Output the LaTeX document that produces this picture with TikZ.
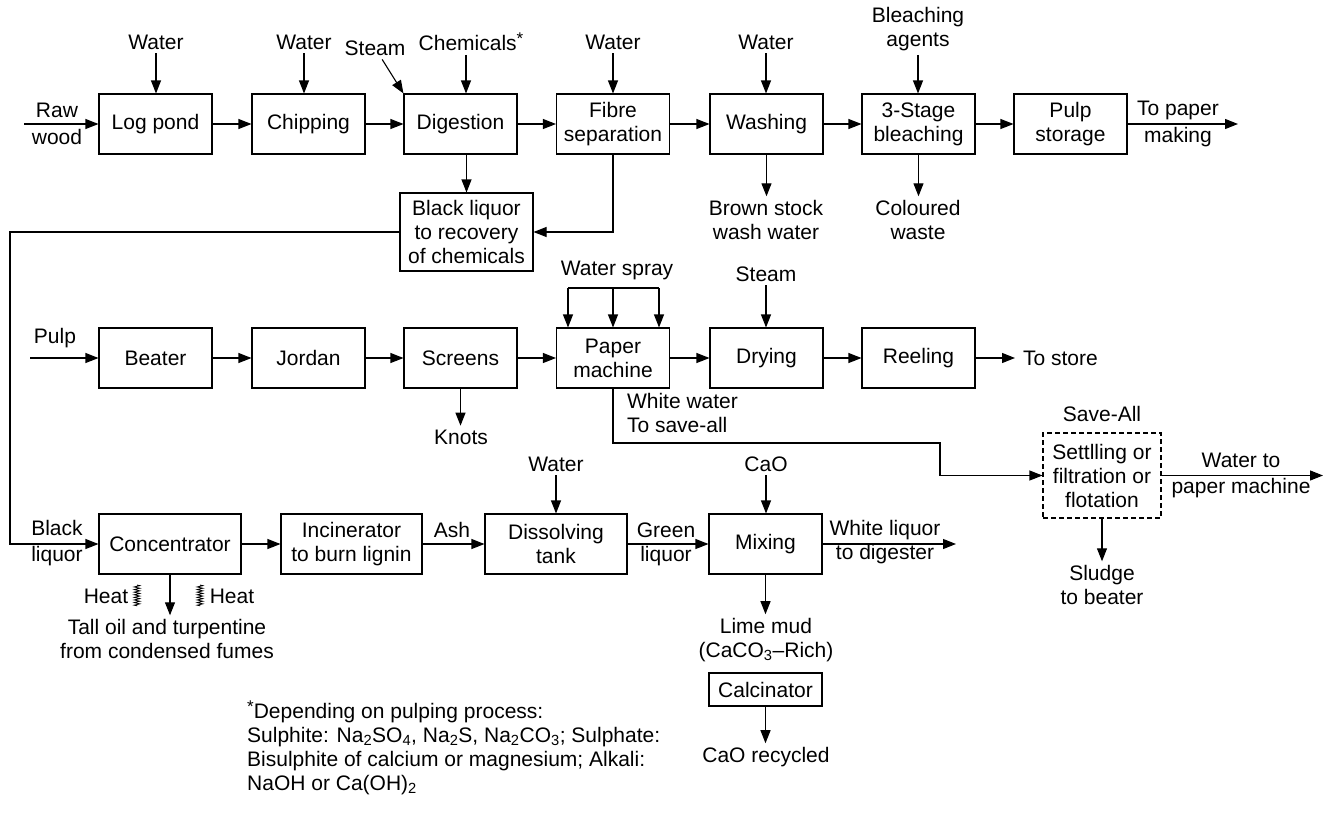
\documentclass[tikz,border=0pt]{standalone}
\usepackage{fontspec}
\setmainfont{Liberation Sans}
\usetikzlibrary{arrows.meta,decorations.pathmorphing}
\newcommand{\fnstar}{\raisebox{6pt}{\fontsize{17}{17}\selectfont *}}
\begin{document}
\begin{tikzpicture}[x=1pt,y=-1pt,font=\fontsize{21}{24}\selectfont,
 box/.style={draw,line width=1.1pt,inner sep=0pt,align=center,minimum height=60pt,minimum width=113pt},
 lab/.style={inner sep=0pt,outer sep=4pt,align=center},
 arr/.style={line width=1.1pt,-{Triangle[length=13pt,width=10pt]}},
 ln/.style={line width=1.1pt},
 heat/.style={line width=0.8pt,decorate,decoration={zigzag,segment length=2.6pt,amplitude=2.8pt}}]
\useasboundingbox (0,0) rectangle (1325,814);

% ---------- Row 1 ----------
\node[box] (logpond) at (155.5,124) {Log pond};
\node[box] (chip) at (308.5,124) {Chipping};
\node[box] (dig) at (460.5,124) {Digestion};
\node[box] (fibre) at (613,124) {Fibre\\separation};
\node[box] (wash) at (766.5,124) {Washing};
\node[box] (bleach) at (918.5,124) {3-Stage\\bleaching};
\node[box] (pulps) at (1070.5,124) {Pulp\\storage};
\node[box,minimum width=133pt,minimum height=78pt] (blk) at (466.5,232) {Black liquor\\to recovery\\of chemicals};

\node[lab] (w1) at (156,42) {Water};
\node[lab] (w2) at (304,42) {Water};
\node[lab] (steam1) at (375,48) {Steam};
\node[lab] (chem) at (471,42) {Chemicals\fnstar};
\node[lab] (w3) at (613,42) {Water};
\node[lab] (w4) at (766,42) {Water};
\node[lab] (bag) at (918,29) {Bleaching\\agents};
\node[lab] (raw) at (57,124) {Raw\\[3pt]wood};
\node[lab] (topm) at (1178,124) {To paper\\[3pt]making};
\node[lab] (brown) at (766,220) {Brown stock\\wash water};
\node[lab] (colw) at (918,220) {Coloured\\waste};

\coordinate (rawin) at (24,124);
\coordinate (pout) at (1238,124);

\draw[arr] (rawin) -- (logpond);
\draw[arr] (logpond) -- (chip);
\draw[arr] (chip) -- (dig);
\draw[arr] (dig) -- (fibre);
\draw[arr] (fibre) -- (wash);
\draw[arr] (wash) -- (bleach);
\draw[arr] (bleach) -- (pulps);
\draw[arr] (pulps) -- (pout);

\draw[arr] (w1) -- (w1 |- logpond.north);
\draw[arr] (w2) -- (w2 |- chip.north);
\draw[arr] (steam1) -- (dig.north west);
\draw[arr] ([xshift=-5pt]chem.south) -- ([xshift=-5pt]chem.south |- dig.north);
\draw[arr] (w3) -- (w3 |- fibre.north);
\draw[arr] (w4) -- (w4 |- wash.north);
\draw[arr] (bag) -- (bag |- bleach.north);

\draw[arr] (blk.north |- dig.south) -- (blk.north);
\draw[arr] (fibre.south) |- (blk.east);
\draw[arr] (wash.south) -- (wash.south |- brown.north);
\draw[arr] (bleach.south) -- (bleach.south |- colw.north);

% ---------- Row 2 ----------
\node[box] (beater) at (155.5,358) {Beater};
\node[box] (jordan) at (308.5,358) {Jordan};
\node[box] (screens) at (460.5,358) {Screens};
\node[box] (paper) at (613,358) {Paper\\machine};
\node[box] (drying) at (766.5,358) {Drying};
\node[box] (reel) at (918.5,358) {Reeling};

\coordinate (pulpin) at (30,358);
\node[lab] (pulplab) at (55,338) {Pulp};
\coordinate (storeout) at (1015,358);
\node[lab,anchor=west,outer sep=0pt] (store) at (1023,358) {To store};

\draw[arr] (pulpin) -- (beater);
\draw[arr] (beater) -- (jordan);
\draw[arr] (jordan) -- (screens);
\draw[arr] (screens) -- (paper);
\draw[arr] (paper) -- (drying);
\draw[arr] (drying) -- (reel);
\draw[arr] (reel) -- (storeout);

\node[lab] (knots) at (461,437) {Knots};
\draw[arr] (screens.south) -- (screens.south |- knots.north);

\node[lab] (wspray) at (617,270) {Water spray};
\coordinate (ws1) at (568,288);
\coordinate (ws2) at (613,288);
\coordinate (ws3) at (659,288);
\draw[ln] (ws1) -- (ws3);
\draw[arr] (ws1) -- (ws1 |- paper.north);
\draw[arr] (ws2) -- (ws2 |- paper.north);
\draw[arr] (ws3) -- (ws3 |- paper.north);

\node[lab] (steam2) at (766,274) {Steam};
\draw[arr] (steam2) -- (steam2 |- drying.north);

% White water / save-all
\node[lab,align=left,anchor=west,outer sep=0pt] (wwlab) at (627,413) {White water\\To save-all};
\coordinate (ww) at (940,443);
\node[box,dash pattern=on 5pt off 3pt,minimum width=118pt,minimum height=85pt] (save) at (1102,475.5) {Settlling or\\filtration or\\flotation};
\draw[arr] (paper.south) |- (ww) |- (save.west);
\node[lab] (savelab) at (1102,414) {Save-All};
\coordinate (wout) at (1323,475.5);
\draw[arr] (save.east) -- (wout);
\node[lab] (wtp) at (1241,475) {Water to\\[2pt]paper machine};
\node[lab] (sludge) at (1102,585) {Sludge\\to beater};
\draw[arr] (save.south) -- (save.south |- sludge.north);

% ---------- Row 3 ----------
\node[box,minimum width=142pt] (conc) at (170,544) {Concentrator};
\node[box,minimum width=141pt] (inc) at (351.5,544) {Incinerator\\to burn lignin};
\node[box,minimum width=142pt] (diss) at (556,544) {Dissolving\\tank};
\node[box] (mix) at (765.5,544) {Mixing};
\coordinate (wlout) at (956,544);

\coordinate (blc) at (10,544);
\draw[arr] (blk.west) -| (blc) -- (conc.west);
\node[lab] (blab) at (57,543) {Black\\[2pt]liquor};

\draw[arr] (conc) -- (inc);
\draw[arr] (inc) -- (diss);
\draw[arr] (diss) -- (mix);
\draw[arr] (mix) -- (wlout);

\node[lab] (ash) at (452,530) {Ash};
\node[lab] (green) at (666,544) {Green\\liquor};
\node[lab] (wliq) at (885,542) {White liquor\\to digester};
\node[lab] (w5) at (556,464) {Water};
\node[lab] (cao) at (766,464) {CaO};
\draw[arr] (w5) -- (w5 |- diss.north);
\draw[arr] (cao) -- (cao |- mix.north);

\node[lab] (tall) at (167,639) {Tall oil and turpentine\\from condensed fumes};
\draw[arr] (conc.south) -- (conc.south |- tall.north);
\node[lab] (heat1) at (106,596) {Heat};
\node[lab] (heat2) at (232,596) {Heat};
\coordinate (hz1a) at (137,585);
\coordinate (hz1b) at (137,606);
\coordinate (hz2a) at (200,585);
\coordinate (hz2b) at (200,606);
\draw[heat] (hz1a) -- (hz1b);
\draw[heat] (hz2a) -- (hz2b);

\node[lab] (lime) at (766,640) {Lime mud\\(CaCO\textsubscript{3}--Rich)};
\draw[arr] (mix.south) -- (mix.south |- lime.north);
\node[box,minimum height=33pt] (calc) at (765.5,689.5) {Calcinator};
\node[lab] (caor) at (766,757) {CaO recycled};
\draw[arr] (calc.south) -- (calc.south |- caor.north);

% ---------- Footnote ----------
\node[inner sep=0pt,align=left,anchor=west] (fn) at (247,748) {\fnstar Depending on pulping process:\\Sulphite: Na\textsubscript{2}SO\textsubscript{4}, Na\textsubscript{2}S, Na\textsubscript{2}CO\textsubscript{3}; Sulphate:\\Bisulphite of calcium or magnesium; Alkali:\\NaOH or Ca(OH)\textsubscript{2}};
\end{tikzpicture}
\end{document}
